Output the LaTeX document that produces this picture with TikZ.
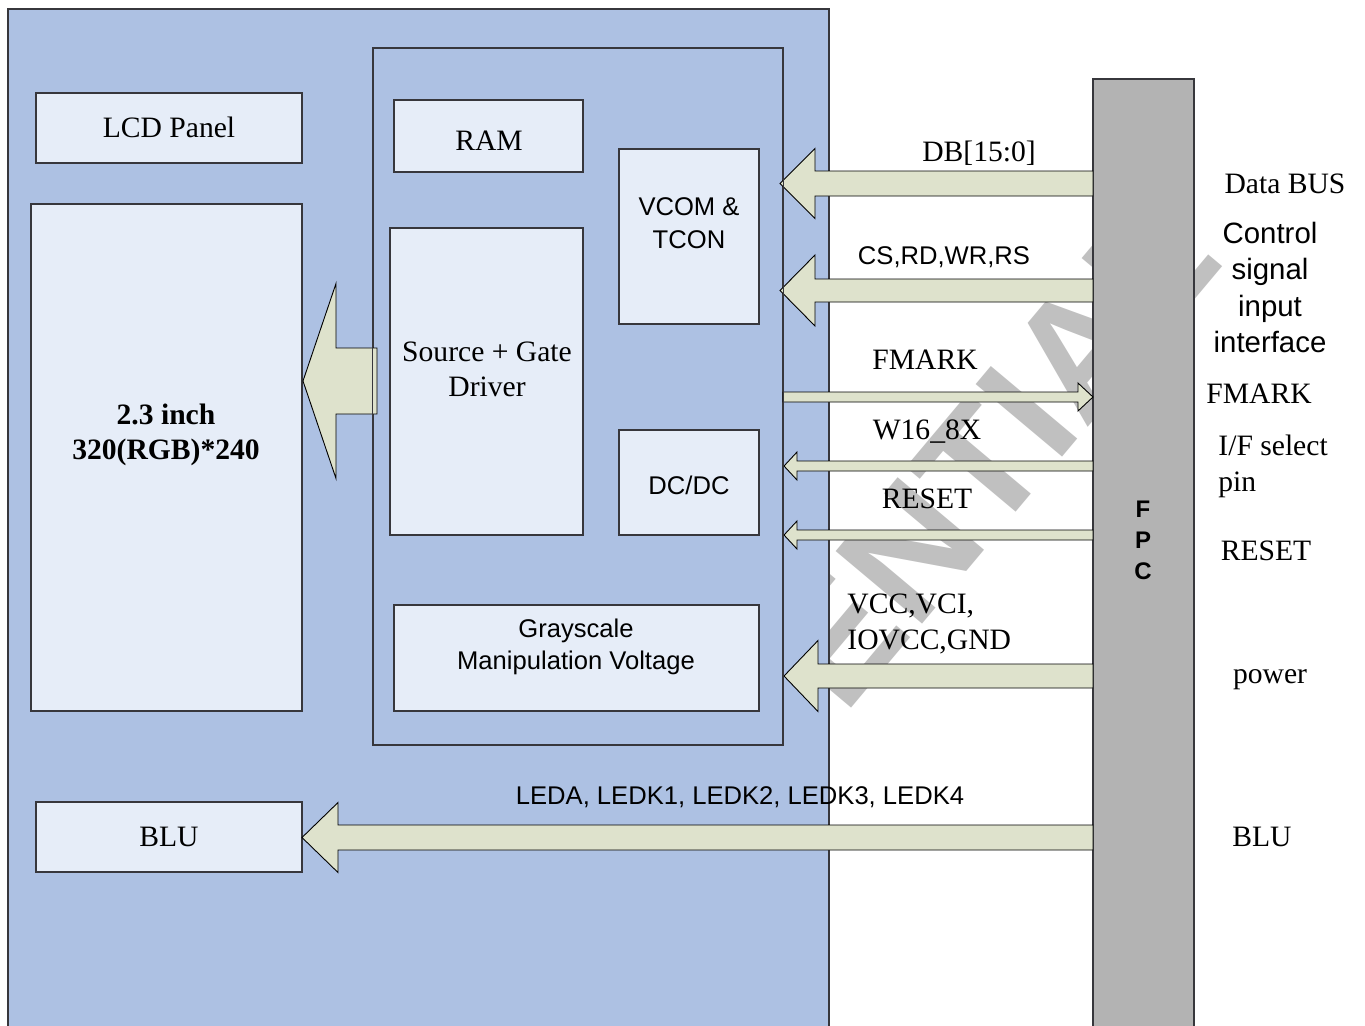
\documentclass[tikz,border=0pt]{standalone}
\usepackage{fontspec}
\setmainfont{Liberation Serif}
\setsansfont{Liberation Sans}
\usetikzlibrary{fit}
\definecolor{bgblue}{RGB}{173,193,227}
\definecolor{boxfill}{RGB}{230,237,248}
\definecolor{arrowfill}{RGB}{222,226,204}
\definecolor{fpcgray}{RGB}{179,179,179}
\definecolor{wmgray}{RGB}{192,192,192}
\definecolor{edge}{RGB}{55,55,60}
\newcommand\stk[2]{\begin{tabular}[t]{@{}#1@{}}#2\end{tabular}}
\newcommand\myfat[6]{\draw[fat] (#1,#3) -- ({#1+#6},{#3-#5}) -- ({#1+#6},{#3-#4}) -- (#2,{#3-#4}) -- (#2,{#3+#4}) -- ({#1+#6},{#3+#4}) -- ({#1+#6},{#3+#5}) -- cycle;}
\tikzset{
  region/.style={draw=edge, fill=bgblue, line width=0.6pt, inner sep=0pt},
  fpcbar/.style={draw=edge, fill=fpcgray, line width=0.6pt, inner sep=0pt},
  box/.style={draw=edge, fill=boxfill, line width=0.6pt, inner sep=0pt},
  fat/.style={draw=black, fill=arrowfill, line width=0.45pt, line join=miter},
  txt/.style={inner sep=0pt, anchor=base},
  serif/.style={txt, font=\fontsize{14.8}{17.5}\selectfont},
  sans/.style={txt, font=\sffamily\fontsize{12.8}{16}\selectfont},
  wm/.style={font=\sffamily\bfseries\fontsize{82}{82}\selectfont, text=wmgray, rotate=50, inner sep=0pt},
}
\begin{document}
\begin{tikzpicture}[x=0.5pt,y=-0.5pt]
\useasboundingbox (0,0) rectangle (1365,1025);
\clip (0,0) rectangle (1365,1025);
\fill[white] (0,0) rectangle (1365,1025);
% watermark
\node[wm] (wm) at (790,694) {CONFIDENTIAL};
% large regions
\node[region, fit={(8,9) (829,1040)}] (module) {};
\node[region, fit={(373,48) (783,745)}] (ic) {};
\node[fpcbar, fit={(1093,79) (1194,1040)}] (fpc) {};
% boxes
\node[box, fit={(36,93) (302,163)}] (lcd) {};
\node[box, fit={(31,204) (302,711)}] (panel) {};
\node[box, fit={(394,100) (583,172)}] (ram) {};
\node[box, fit={(619,149) (759,324)}] (vcom) {};
\node[box, fit={(390,228) (583,535)}] (drv) {};
\node[box, fit={(619,430) (759,535)}] (dcdc) {};
\node[box, fit={(394,605) (759,711)}] (gray) {};
\node[box, fit={(36,802) (302,872)}] (blu) {};
% fat arrows
\myfat{780}{1093}{183.5}{12.5}{35}{35}
\myfat{780}{1093}{290.5}{11.5}{35.5}{35}
\myfat{1093}{783}{397}{5}{14}{-15}
\myfat{784}{1093}{466}{5}{14}{13}
\myfat{784}{1093}{535}{5}{14}{13}
\myfat{784}{1093}{676}{12}{35.5}{34}
\myfat{302}{1093}{837.5}{12.5}{35}{36}
\myfat{303}{377}{381}{33}{97.5}{33}
\draw[edge, line width=0.6pt] (ic.north west) rectangle (ic.south east);
% box texts
\node[serif] (tlcd) at (169,137) {LCD Panel};
\node[serif] (tram) at (489,150) {RAM};
\node[sans] (tvcom) at (689,215) {\fontsize{12.8}{16.5}\selectfont\stk{c}{VCOM \&\\TCON}};
\node[serif] (tdrv) at (487,361) {\stk{c}{Source + Gate\\Driver}};
\node[sans] (tdcdc) at (689,494) {DC/DC};
\node[sans] (tgray) at (576,637) {\stk{c}{Grayscale\\Manipulation Voltage}};
\node[serif] (tpanel) at (166,424) {\bfseries\stk{c}{2.3 inch\\320(RGB)*240}};
\node[serif] (tblu) at (169,846) {BLU};
% signal labels
\node[serif] (tdb) at (979,161) {DB[15:0]};
\node[sans] (tcs) at (944,264) {CS,RD,WR,RS};
\node[serif] (tfm) at (925,369) {FMARK};
\node[serif] (tw16) at (927,439) {W16\_8X};
\node[serif] (trst) at (927,508) {RESET};
\node[serif, anchor=base west] (tpwr) at (847,613) {\fontsize{14.8}{18}\selectfont\stk{l}{VCC,VCI,\\IOVCC,GND}};
\node[sans] (tled) at (740,804) {LEDA, LEDK1, LEDK2, LEDK3, LEDK4};
% FPC letters
\node[txt, font=\sffamily\bfseries\fontsize{12}{12}\selectfont] (f1) at (1143,517) {F};
\node[txt, font=\sffamily\bfseries\fontsize{12}{12}\selectfont] (f2) at (1143,548) {P};
\node[txt, font=\sffamily\bfseries\fontsize{12}{12}\selectfont] (f3) at (1143,579) {C};
% right labels
\node[serif] (rdb) at (1285,193) {Data BUS};
\node[txt, font=\sffamily\fontsize{14.7}{18.3}\selectfont] (rcs) at (1270,243) {\stk{c}{Control\\signal\\input\\interface}};
\node[serif] (rfm) at (1259,403) {FMARK};
\node[serif, anchor=base west] (rif) at (1218,455) {\fontsize{14.8}{18}\selectfont\stk{l}{I/F select\\pin}};
\node[serif] (rrst) at (1266,560) {RESET};
\node[serif] (rpwr) at (1270,683) {power};
\node[serif] (rblu) at (1262,846) {BLU};
\end{tikzpicture}
\end{document}
